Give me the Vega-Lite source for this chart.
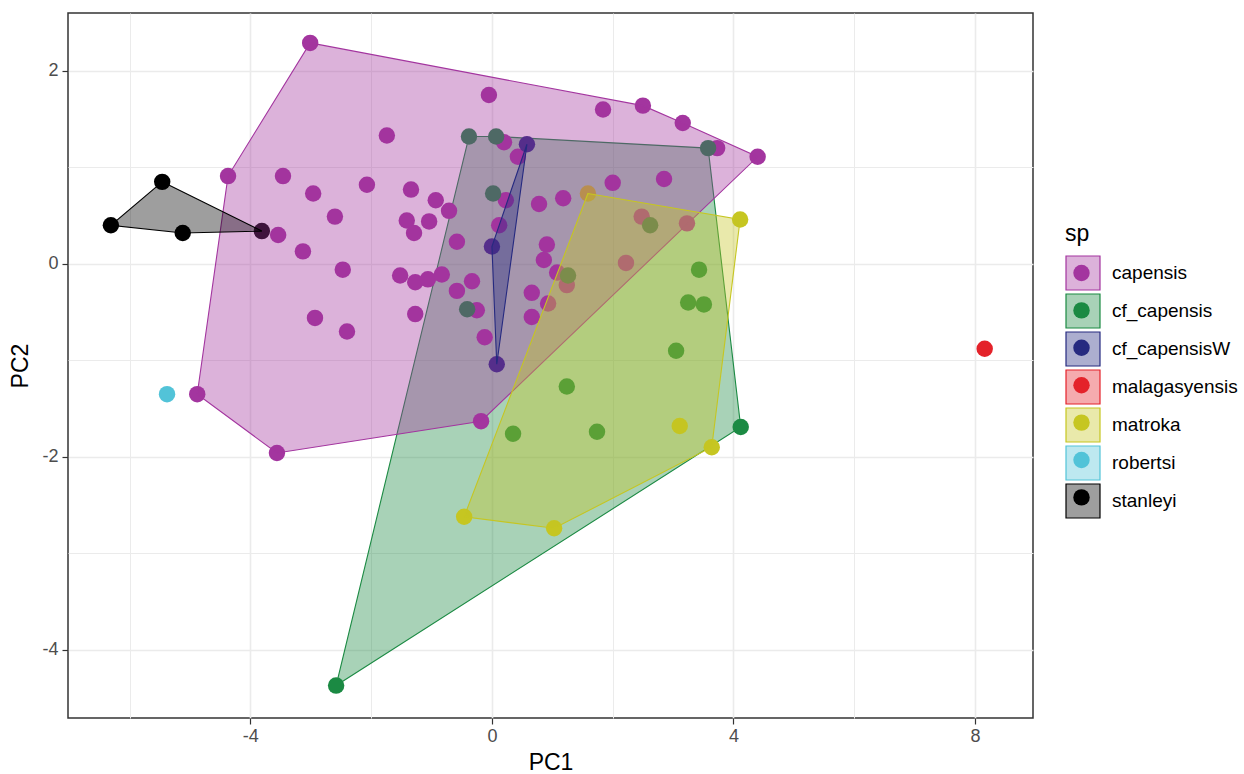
{
  "$schema": "https://vega.github.io/schema/vega-lite/v6.json",
  "width": 965,
  "height": 705,
  "autosize": {"type": "none"},
  "padding": {"left": 68, "top": 13, "right": 211, "bottom": 56},
  "background": "white",
  "config": {
    "font": "Liberation Sans",
    "view": {"stroke": "#333333", "strokeWidth": 1.5},
    "axis": {
      "domain": false,
      "grid": true,
      "gridColor": "#EBEBEB",
      "labelFont": "Liberation Sans",
      "labelFontSize": 18,
      "labelColor": "#4D4D4D",
      "tickColor": "#333333",
      "tickSize": 6,
      "tickWidth": 1.2,
      "titleFont": "Liberation Sans",
      "titleFontSize": 23,
      "titleFontWeight": "normal",
      "titleColor": "#000000"
    }
  },
  "data": {
    "values": [
      {"sp": "capensis", "PC1": -3.01, "PC2": 2.29, "hull": 1},
      {"sp": "capensis", "PC1": -1.74, "PC2": 1.33},
      {"sp": "capensis", "PC1": -4.37, "PC2": 0.91, "hull": 8},
      {"sp": "capensis", "PC1": -3.46, "PC2": 0.91},
      {"sp": "capensis", "PC1": -2.96, "PC2": 0.73},
      {"sp": "capensis", "PC1": -2.07, "PC2": 0.82},
      {"sp": "capensis", "PC1": -1.34, "PC2": 0.77},
      {"sp": "capensis", "PC1": -0.93, "PC2": 0.66},
      {"sp": "capensis", "PC1": -0.71, "PC2": 0.55},
      {"sp": "capensis", "PC1": -2.6, "PC2": 0.49},
      {"sp": "capensis", "PC1": -1.41, "PC2": 0.45},
      {"sp": "capensis", "PC1": -1.04, "PC2": 0.44},
      {"sp": "capensis", "PC1": -1.29, "PC2": 0.32},
      {"sp": "capensis", "PC1": -0.58, "PC2": 0.23},
      {"sp": "capensis", "PC1": -3.54, "PC2": 0.3},
      {"sp": "capensis", "PC1": -3.13, "PC2": 0.13},
      {"sp": "capensis", "PC1": -0.05, "PC2": 1.75},
      {"sp": "capensis", "PC1": 1.84, "PC2": 1.6},
      {"sp": "capensis", "PC1": 2.5, "PC2": 1.64, "hull": 2},
      {"sp": "capensis", "PC1": 3.16, "PC2": 1.46, "hull": 3},
      {"sp": "capensis", "PC1": 4.4, "PC2": 1.11, "hull": 4},
      {"sp": "capensis", "PC1": 3.73, "PC2": 1.2},
      {"sp": "capensis", "PC1": 0.2, "PC2": 1.26},
      {"sp": "capensis", "PC1": 0.43, "PC2": 1.11},
      {"sp": "capensis", "PC1": 0.23, "PC2": 0.66},
      {"sp": "capensis", "PC1": 2.0, "PC2": 0.84},
      {"sp": "capensis", "PC1": 2.85, "PC2": 0.88},
      {"sp": "capensis", "PC1": 0.78, "PC2": 0.62},
      {"sp": "capensis", "PC1": 1.18, "PC2": 0.68},
      {"sp": "capensis", "PC1": 2.48, "PC2": 0.49},
      {"sp": "capensis", "PC1": 3.23, "PC2": 0.42},
      {"sp": "capensis", "PC1": 0.12, "PC2": 0.4},
      {"sp": "capensis", "PC1": 0.91, "PC2": 0.2},
      {"sp": "capensis", "PC1": 0.86, "PC2": 0.04},
      {"sp": "capensis", "PC1": 2.22, "PC2": 0.01},
      {"sp": "capensis", "PC1": -2.47, "PC2": -0.06},
      {"sp": "capensis", "PC1": -1.52, "PC2": -0.12},
      {"sp": "capensis", "PC1": -1.27, "PC2": -0.19},
      {"sp": "capensis", "PC1": -1.06, "PC2": -0.16},
      {"sp": "capensis", "PC1": -0.83, "PC2": -0.11},
      {"sp": "capensis", "PC1": -0.33, "PC2": -0.18},
      {"sp": "capensis", "PC1": -0.58, "PC2": -0.28},
      {"sp": "capensis", "PC1": 0.66, "PC2": -0.3},
      {"sp": "capensis", "PC1": 1.08, "PC2": -0.09},
      {"sp": "capensis", "PC1": 1.24, "PC2": -0.22},
      {"sp": "capensis", "PC1": 0.93, "PC2": -0.41},
      {"sp": "capensis", "PC1": 0.66, "PC2": -0.55},
      {"sp": "capensis", "PC1": -0.25, "PC2": -0.48},
      {"sp": "capensis", "PC1": -1.27, "PC2": -0.52},
      {"sp": "capensis", "PC1": -2.93, "PC2": -0.56},
      {"sp": "capensis", "PC1": -2.4, "PC2": -0.7},
      {"sp": "capensis", "PC1": -0.12, "PC2": -0.76},
      {"sp": "capensis", "PC1": -4.88, "PC2": -1.35, "hull": 7},
      {"sp": "capensis", "PC1": -3.56, "PC2": -1.96, "hull": 6},
      {"sp": "capensis", "PC1": -0.18, "PC2": -1.63, "hull": 5},
      {"sp": "cf_capensis", "PC1": -0.38, "PC2": 1.32, "hull": 1},
      {"sp": "cf_capensis", "PC1": 0.07, "PC2": 1.32, "hull": 2},
      {"sp": "cf_capensis", "PC1": 3.58, "PC2": 1.2, "hull": 3},
      {"sp": "cf_capensis", "PC1": 0.02, "PC2": 0.73},
      {"sp": "cf_capensis", "PC1": 2.62, "PC2": 0.4},
      {"sp": "cf_capensis", "PC1": 1.26, "PC2": -0.12},
      {"sp": "cf_capensis", "PC1": -0.41, "PC2": -0.47},
      {"sp": "cf_capensis", "PC1": 3.43, "PC2": -0.06},
      {"sp": "cf_capensis", "PC1": 3.25, "PC2": -0.4},
      {"sp": "cf_capensis", "PC1": 3.51, "PC2": -0.42},
      {"sp": "cf_capensis", "PC1": 3.05, "PC2": -0.9},
      {"sp": "cf_capensis", "PC1": 1.24, "PC2": -1.27},
      {"sp": "cf_capensis", "PC1": 0.35, "PC2": -1.76},
      {"sp": "cf_capensis", "PC1": 1.74, "PC2": -1.74},
      {"sp": "cf_capensis", "PC1": 4.12, "PC2": -1.69, "hull": 4},
      {"sp": "cf_capensis", "PC1": -2.58, "PC2": -4.37, "hull": 5},
      {"sp": "cf_capensisW", "PC1": 0.58, "PC2": 1.24, "hull": 1},
      {"sp": "cf_capensisW", "PC1": 0.0, "PC2": 0.18, "hull": 2},
      {"sp": "cf_capensisW", "PC1": 0.08, "PC2": -1.04, "hull": 3},
      {"sp": "malagasyensis", "PC1": 8.16, "PC2": -0.88},
      {"sp": "matroka", "PC1": 1.59, "PC2": 0.73, "hull": 1},
      {"sp": "matroka", "PC1": 4.11, "PC2": 0.46, "hull": 2},
      {"sp": "matroka", "PC1": 3.11, "PC2": -1.68},
      {"sp": "matroka", "PC1": 3.64, "PC2": -1.9, "hull": 3},
      {"sp": "matroka", "PC1": 1.03, "PC2": -2.74, "hull": 4},
      {"sp": "matroka", "PC1": -0.46, "PC2": -2.62, "hull": 5},
      {"sp": "robertsi", "PC1": -5.38, "PC2": -1.35},
      {"sp": "stanleyi", "PC1": -5.46, "PC2": 0.85, "hull": 1},
      {"sp": "stanleyi", "PC1": -3.81, "PC2": 0.34, "hull": 2},
      {"sp": "stanleyi", "PC1": -5.12, "PC2": 0.32, "hull": 3},
      {"sp": "stanleyi", "PC1": -6.31, "PC2": 0.4, "hull": 4}
    ]
  },
  "encoding": {
    "x": {
      "field": "PC1",
      "type": "quantitative",
      "scale": {"domain": [-7.02, 8.96], "nice": false, "zero": false},
      "axis": {
        "title": "PC1",
        "values": [-6, -4, -2, 0, 2, 4, 6, 8],
        "labelExpr": "datum.value % 4 == 0 ? '' + datum.value : ''",
        "tickOpacity": {"condition": {"test": "datum.value % 4 != 0", "value": 0}, "value": 1},
        "gridWidth": {"condition": {"test": "datum.value % 4 != 0", "value": 1}, "value": 1.6},
        "labelPadding": 3,
        "titlePadding": 6
      }
    },
    "y": {
      "field": "PC2",
      "type": "quantitative",
      "scale": {"domain": [-4.706, 2.6], "nice": false, "zero": false},
      "axis": {
        "title": "PC2",
        "values": [-4, -3, -2, -1, 0, 1, 2],
        "labelExpr": "datum.value % 2 == 0 ? '' + datum.value : ''",
        "tickOpacity": {"condition": {"test": "datum.value % 2 != 0", "value": 0}, "value": 1},
        "gridWidth": {"condition": {"test": "datum.value % 2 != 0", "value": 1}, "value": 1.6},
        "labelPadding": 4,
        "titlePadding": 9
      }
    }
  },
  "layer": [
    {
      "transform": [{"filter": "datum.hull != null && datum.sp == 'cf_capensis'"}],
      "mark": {"type": "line", "interpolate": "linear-closed", "fillOpacity": 0.38, "strokeWidth": 1.1},
      "encoding": {
        "fill": {
          "field": "sp", "type": "nominal",
          "scale": {
            "domain": ["capensis", "cf_capensis", "cf_capensisW", "malagasyensis", "matroka", "robertsi", "stanleyi"],
            "range": ["#A3359F", "#1B8A43", "#262A80", "#E4222A", "#C6C621", "#52C3D8", "#000000"]
          },
          "legend": {
            "orient": "none", "legendX": 997, "legendY": 210, "padding": 0,
            "title": "sp", "titleFontSize": 23, "titleFontWeight": "normal", "titleColor": "#000000", "titlePadding": 9,
            "labelFontSize": 19, "labelColor": "#000000", "labelOffset": 11,
            "symbolType": "square", "symbolSize": 1156, "symbolStrokeWidth": 1.2,
            "rowPadding": -3.0, "zindex": 1,
            "encode": {"symbols": {"update": {"fillOpacity": {"value": 0.38}, "strokeOpacity": {"value": 1}}}}
          }
        },
        "stroke": {
          "field": "sp", "type": "nominal",
          "scale": {
            "domain": ["capensis", "cf_capensis", "cf_capensisW", "malagasyensis", "matroka", "robertsi", "stanleyi"],
            "range": ["#A3359F", "#1B8A43", "#262A80", "#E4222A", "#C6C621", "#52C3D8", "#000000"]
          },
          "legend": {
            "orient": "none", "legendX": 997, "legendY": 210, "padding": 0,
            "title": "sp", "titleFontSize": 23, "titleFontWeight": "normal", "titleColor": "#000000", "titlePadding": 9,
            "labelFontSize": 19, "labelColor": "#000000", "labelOffset": 11,
            "symbolType": "square", "symbolSize": 1156, "symbolStrokeWidth": 1.2,
            "rowPadding": -3.0, "zindex": 1,
            "encode": {"symbols": {"update": {"fillOpacity": {"value": 0.38}, "strokeOpacity": {"value": 1}}}}
          }
        },
        "order": {"field": "hull", "type": "quantitative"}
      }
    },
    {
      "mark": {"type": "circle", "size": 270, "opacity": 1},
      "encoding": {
        "color": {
          "field": "sp", "type": "nominal",
          "scale": {"range": ["#A3359F", "#1B8A43", "#262A80", "#E4222A", "#C6C621", "#52C3D8", "#000000"]},
          "legend": {
            "orient": "none", "legendX": 1005, "legendY": 251.5, "padding": 0,
            "title": null,
            "labelExpr": "''", "labelFontSize": 1, "labelOffset": 0,
            "symbolType": "circle", "symbolSize": 270, "symbolStrokeWidth": 0,
            "rowPadding": 20.4, "zindex": 2
          }
        }
      }
    },
    {
      "transform": [{"filter": "datum.hull != null && datum.sp != 'cf_capensis'"}],
      "mark": {"type": "line", "interpolate": "linear-closed", "fillOpacity": 0.38, "strokeWidth": 1.1},
      "encoding": {
        "fill": {"field": "sp", "type": "nominal"},
        "stroke": {"field": "sp", "type": "nominal"},
        "order": {"field": "hull", "type": "quantitative"}
      }
    }
  ]
}
